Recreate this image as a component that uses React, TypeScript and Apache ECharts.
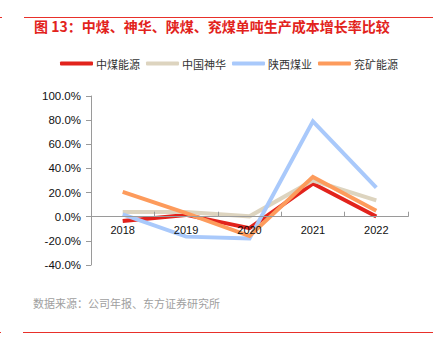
import React, { useEffect, useRef } from "react";
import * as echarts from "echarts";

const categories = ["2018", "2019", "2020", "2021", "2022"];
const seriesNames = ["中煤能源", "中国神华", "陕西煤业", "兖矿能源"];
const chinaCoal = [-3.5, 1.5, -9.5, 27.5, 0.2];
const shenhua = [4.0, 4.0, 0.3, 30.0, 13.5];
const shaanxiCoal = [2.0, -16.5, -18.0, 79.0, 24.0];
const yankuang = [20.5, 3.0, -16.0, 33.0, 5.0];
const colors = ["#e2231c", "#ddd4bf", "#a9c9fb", "#fd9b5c"];
const yTicks = { min: -40, max: 100, interval: 20 };

export default function App() {
  const ref = useRef<HTMLDivElement>(null);
  useEffect(() => {
    document.body.style.margin = "0";
    const chart = echarts.init(ref.current!, null, { renderer: "svg" });
    const values = [chinaCoal, shenhua, shaanxiCoal, yankuang];
    const gridTop = 96;
    const gridHeight = 169;
    const zeroY = gridTop + (gridHeight * yTicks.max) / (yTicks.max - yTicks.min);
    const xOffset = -(gridTop + gridHeight - zeroY);
    chart.setOption({
      animation: false,
      backgroundColor: "#ffffff",
      textStyle: { fontFamily: "Liberation Sans, Noto Sans CJK SC, sans-serif" },
      graphic: [
        { type: "line", shape: { x1: 24, y1: 17.5, x2: 433, y2: 17.5 }, style: { stroke: "#e8302a", lineWidth: 1 } },
        { type: "line", shape: { x1: 0, y1: 17.5, x2: 2, y2: 17.5 }, style: { stroke: "#e8302a", lineWidth: 1 } },
        { type: "line", shape: { x1: 23, y1: 332.5, x2: 433, y2: 332.5 }, style: { stroke: "#e8302a", lineWidth: 1 } },
        { type: "line", shape: { x1: 0, y1: 332.5, x2: 1, y2: 332.5 }, style: { stroke: "#e8302a", lineWidth: 1 } },
        {
          type: "text",
          left: 34,
          top: 19,
          style: {
            text: "图 13：中煤、神华、陕煤、兖煤单吨生产成本增长率比较",
            fill: "#e2231c",
            font: "bold 14px 'Noto Sans CJK SC', sans-serif",
          },
        },
        {
          type: "text",
          left: 33,
          top: 297,
          style: {
            text: "数据来源：公司年报、东方证券研究所",
            fill: "#a0a0a0",
            font: "11px 'Noto Sans CJK SC', sans-serif",
          },
        },
      ],
      legend: {
        left: 60,
        top: 58,
        padding: 0,
        itemWidth: 33,
        itemHeight: 4,
        itemGap: 6,
        icon: "roundRect",
        textStyle: { fontSize: 11, color: "#333", fontFamily: "'Noto Sans CJK SC', sans-serif", padding: [0, 0, 0, -2] },
        data: seriesNames,
      },
      grid: { left: 91, right: 25, top: gridTop, height: gridHeight, containLabel: false },
      xAxis: {
        type: "category",
        data: categories,
        boundaryGap: true,
        offset: xOffset,
        z: 5,
        axisLine: { onZero: false, lineStyle: { color: "#9a9a9a", width: 1 } },
        axisTick: { show: true, inside: true, length: 5, lineStyle: { color: "#9a9a9a" } },
        axisLabel: { fontSize: 11, color: "#111", margin: 8 },
      },
      yAxis: {
        type: "value",
        min: yTicks.min,
        max: yTicks.max,
        interval: yTicks.interval,
        splitLine: { show: false },
        axisLine: { show: true, lineStyle: { color: "#9a9a9a", width: 1 } },
        axisTick: { show: true, length: 5, lineStyle: { color: "#9a9a9a" } },
        axisLabel: {
          fontSize: 11.5,
          color: "#111",
          margin: 10,
          formatter: (v: number) => v.toFixed(1) + "%",
        },
      },
      series: seriesNames.map((name, i) => ({
        name,
        type: "line",
        data: values[i],
        symbol: "none",
        color: colors[i],
        lineStyle: { width: 4, color: colors[i], join: "miter" },
      })),
    });
    return () => chart.dispose();
  }, []);
  return <div ref={ref} style={{ position: "absolute", left: 0, top: 0, width: 433, height: 357 }} />;
}
